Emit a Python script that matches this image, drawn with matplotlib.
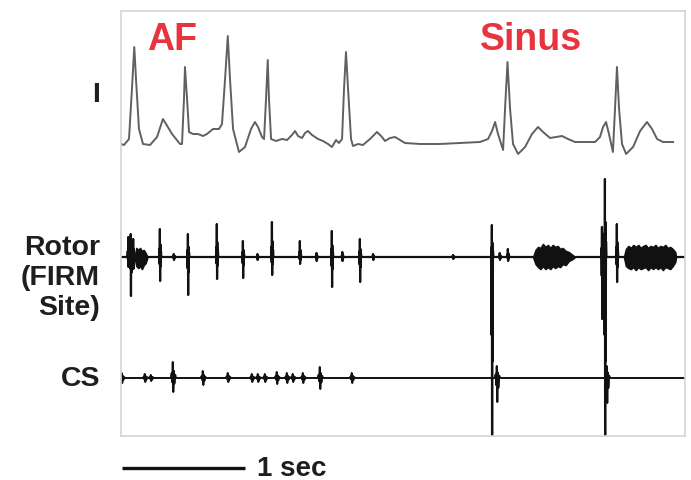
import numpy as np
import matplotlib
matplotlib.use("Agg")
import matplotlib.pyplot as plt

# ---------------- data (time in ms, amplitude in arbitrary units) ----------------
# Surface lead I key points
lead_i_t = [0, 24, 65, 89, 108, 122, 146, 179, 236, 293, 341, 366, 415, 480, 496, 512, 520, 537, 553,
            585, 626, 667, 699, 748, 797, 821, 846, 868, 886, 911, 959, 1008, 1057, 1089, 1114, 1146,
            1163, 1179, 1193, 1203, 1220, 1260, 1309, 1350, 1390, 1415, 1439, 1472, 1496, 1520, 1553,
            1602, 1642, 1683, 1715, 1748, 1772, 1797, 1813, 1829, 1846, 1870, 1886, 1927, 1967, 2024,
            2081, 2122, 2146, 2187, 2228, 2268, 2309, 2431, 2593, 2756, 2919, 2984, 3016, 3041, 3065,
            3106, 3122, 3142, 3163, 3187, 3228, 3285, 3341, 3390, 3431, 3488, 3537, 3585, 3634, 3691,
            3772, 3854, 3894, 3919, 3943, 3967, 3999, 4016, 4032, 4049, 4073, 4106, 4163, 4220, 4276,
            4317, 4358, 4406, 4488]
lead_i_v = [0, -1, 5, 55, 97, 65, 15, 0, -1, 7, 25, 20, 10, 0, 0, 45, 77, 45, 12,
            10, 10, 8, 10, 15, 15, 20, 65, 108, 65, 15, -8, -3, 15, 22, 17, 7,
            5, 45, 84, 45, 5, 3, 5, 4, 9, 13, 8, 6, 11, 13, 9,
            5, 3, 0, -3, 4, 1, 5, 55, 92, 55, 5, -2, 0, -1, 5,
            12, 7, 3, 6, 7, 4, 1, 0, 0, 1, 2, 5, 13, 22, 10,
            -6, 35, 82, 35, 0, -10, -3, 10, 17, 12, 6, 7, 8, 5, 2,
            2, 2, 7, 17, 22, 10, -8, 35, 77, 35, 0, -10, -3, 13, 22,
            15, 5, 2, 2]

# Rotor (FIRM site) deflections: time, upward peak, downward peak
rotor_t = [60, 80, 100, 317, 545, 780, 992, 1228, 1455, 1715, 1943, 3016, 3146, 3911, 3935, 4032,
           430, 1110, 1590, 1800, 2050, 2700, 3080]
rotor_up = [20, 23, 18, 28, 23, 33, 16, 35, 16, 26, 18, 32, 8, 30, 78, 33,
            3, 3, 4, 5, 3, 2, 4]
rotor_dn = [-10, -39, -12, -24, -38, -22, -21, -18, -7, -30, -25, -260, -4, -62, -260, -25,
            -3, -3, -4, -4, -3, -2, -3]

# Rotor fractionated bursts: envelope (time, upper, lower)
burst0_t = [110, 125, 140, 155, 170, 185, 200, 215]
burst0_hi = [0, 9, 7, 9, 6, 7, 4, 0]
burst0_lo = [0, -9, -11, -9, -12, -8, -6, 0]
burst1_t = [3350, 3370, 3390, 3410, 3430, 3450, 3470, 3490, 3510, 3530, 3550, 3570, 3590, 3615, 3640, 3670, 3691]
burst1_hi = [0, 7, 10, 9, 13, 10, 12, 9, 12, 10, 11, 8, 9, 6, 5, 2, 0]
burst1_lo = [0, -7, -10, -12, -9, -12, -10, -12, -9, -11, -9, -10, -7, -8, -4, -2, 0]
burst2_t = [4089, 4105, 4125, 4145, 4165, 4185, 4205, 4225, 4245, 4265, 4285, 4305, 4325, 4345, 4365,
            4385, 4405, 4425, 4445, 4465, 4485, 4505, 4512]
burst2_hi = [0, 8, 11, 9, 12, 10, 12, 9, 11, 12, 9, 11, 10, 12, 9, 11, 10, 12, 9, 10, 8, 5, 0]
burst2_lo = [0, -9, -11, -12, -10, -13, -10, -12, -11, -10, -13, -10, -12, -10, -12, -10, -13, -10, -11, -12, -9, -5, 0]

# Coronary sinus (CS) deflections
cs_t = [8, 195, 244, 423, 667, 870, 1065, 1114, 1171, 1268, 1350, 1398, 1480, 1618, 1878, 3057, 3951]
cs_up = [5, 4, 3, 16, 7, 5, 4, 4, 4, 6, 5, 4, 5, 11, 5, 12, 12]
cs_dn = [-5, -4, -3, -14, -7, -4, -4, -4, -4, -6, -5, -4, -5, -11, -5, -24, -25]

trace_labels = ["I", "Rotor\n(FIRM\nSite)", "CS"]
rhythm_labels = ["AF", "Sinus"]
rhythm_t = [215, 2920]
scale_bar_ms = 1000
scale_bar_label = "1 sec"
total_ms = 4585

# ---------------- layout / style ----------------
LEAD_I_BASE, ROTOR_BASE, CS_BASE = 292, 179, 58
RED = "#e8343f"
FONT = ["Liberation Sans", "DejaVu Sans"]

W, H = 691, 481
fig = plt.figure(figsize=(W / 100, H / 100), dpi=100)
ax = fig.add_axes([121 / W, 1 - 437 / H, 564 / W, 425 / H])
ax.set_xlim(0, total_ms)
ax.set_ylim(0, 425)
ax.set_xticks([])
ax.set_yticks([])
for s in ax.spines.values():
    s.set_color("#d4d4d4")
    s.set_linewidth(1.2)


def deflection_trace(times, ups, dns, width):
    offs = np.array([-8, -5, -3, -1, 1, 3, 5, 8, 11]) * width
    mult = [0, 0.3, -0.3, 1, -1, 0.45, -0.4, 0.2, 0]
    order = np.argsort(times)
    xs, ys = [0.0], [0.0]
    for i in order:
        t, u, d = times[i], ups[i], dns[i]
        for o, m in zip(offs, mult):
            xs.append(t + o)
            ys.append(m * u if m >= 0 else -m * d)
    xs.append(total_ms)
    ys.append(0.0)
    return np.array(xs), np.array(ys)


# Lead I
ax.plot(lead_i_t, np.array(lead_i_v) + LEAD_I_BASE, color="#4f4f4f", lw=1.4,
        solid_joinstyle="round", alpha=0.9)

# Rotor
rx, ry = deflection_trace(rotor_t, rotor_up, rotor_dn, 1.0)
ax.plot(rx, ry + ROTOR_BASE, color="#111111", lw=1.6)
for bt, bh, bl in [(burst0_t, burst0_hi, burst0_lo), (burst1_t, burst1_hi, burst1_lo),
                   (burst2_t, burst2_hi, burst2_lo)]:
    ax.fill_between(bt, np.array(bh) + ROTOR_BASE, np.array(bl) + ROTOR_BASE,
                    facecolor="#111111", lw=1.2, edgecolor="#111111")

# CS
cx, cy = deflection_trace(cs_t, cs_up, cs_dn, 2.2)
ax.plot(cx, cy + CS_BASE, color="#111111", lw=1.4)

# Rhythm labels
for lab, t in zip(rhythm_labels, rhythm_t):
    ax.text(t, 387, lab, color=RED, fontsize=27, fontweight="bold", family=FONT,
            ha="left", va="baseline")

# Trace labels
for lab, yy in zip(trace_labels, [LEAD_I_BASE + 50, ROTOR_BASE - 20, CS_BASE]):
    ax.text(-21 / 564, yy, lab, transform=ax.get_yaxis_transform(), ha="right", va="center",
            fontsize=20.5, fontweight="bold", family=FONT, color="#1e1e1e", linespacing=1.2,
            multialignment="right")

# Scale bar
ax.plot([8, 8 + scale_bar_ms], [-32, -32], color="#111111", lw=2.4, clip_on=False,
        solid_capstyle="butt")
ax.text(8 + scale_bar_ms + 95, -32, scale_bar_label, ha="left", va="center", fontsize=20,
        fontweight="bold", family=FONT, color="#1e1e1e", clip_on=False)

fig.savefig("out.png", dpi=100)
